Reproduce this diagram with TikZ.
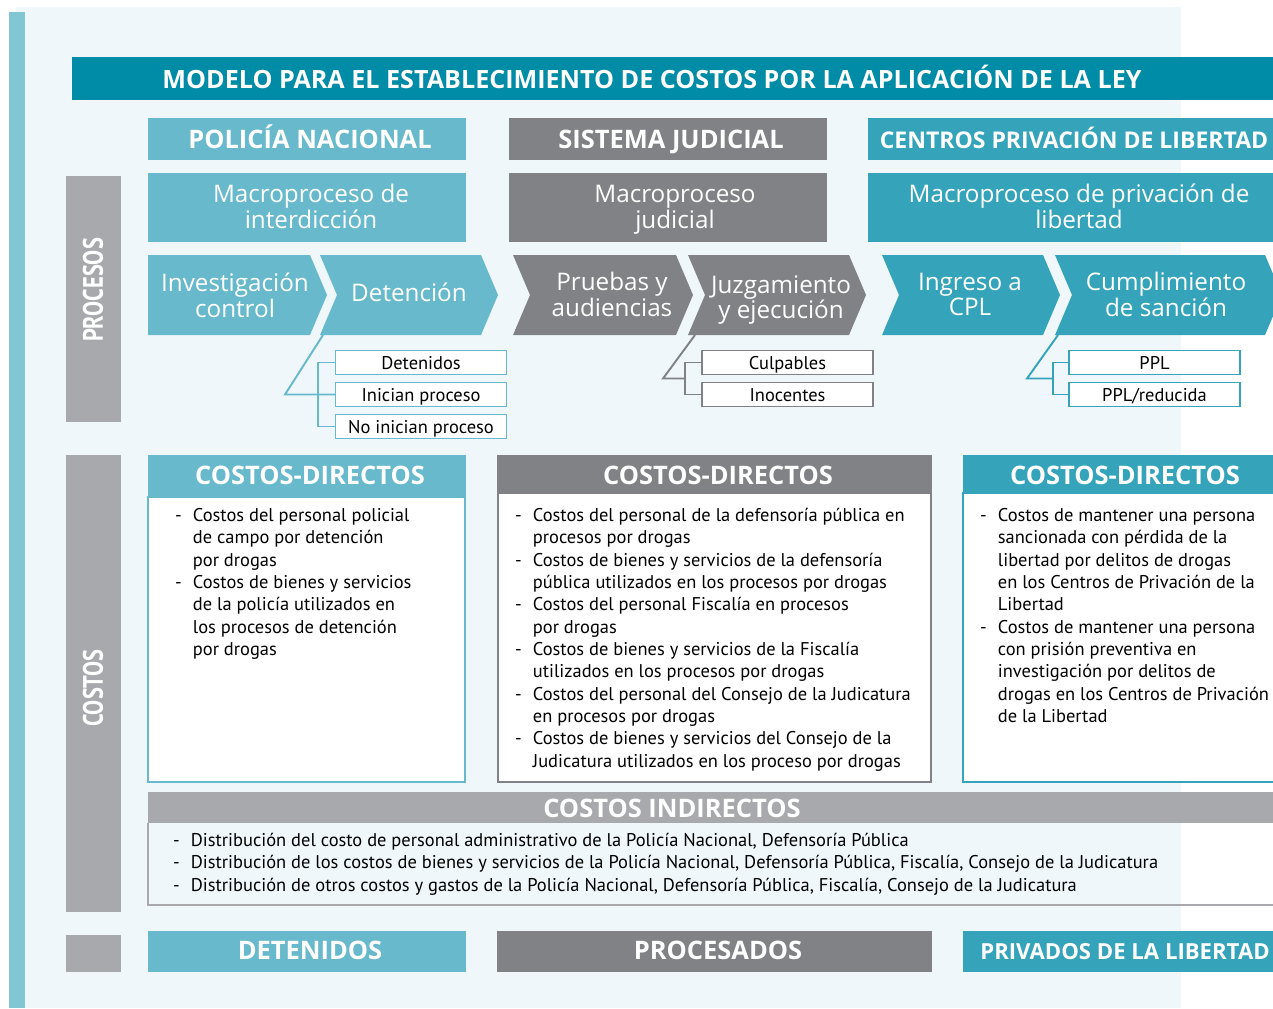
\documentclass[tikz,border=0pt]{standalone}
\usepackage{fontspec}
\setmainfont{PT Sans}
\newfontfamily\narrowfont[FakeStretch=0.80]{PT Sans}
\newfontfamily\headfont{Open Sans}
\usetikzlibrary{positioning}

\definecolor{panelbg}{HTML}{EFF7FA}
\definecolor{sidebar}{HTML}{80C6D3}
\definecolor{titleblue}{HTML}{008BA6}
\definecolor{polcol}{HTML}{67B9CB}
\definecolor{judcol}{HTML}{808285}
\definecolor{cplcol}{HTML}{35A4BA}
\definecolor{lightgray}{HTML}{A7A9AC}

\newcommand{\pxu}{0.02cm}
% chevron: left x, body width, colour
\newcommand{\chev}[3]{\fill[#3] (#1,255) -- ++(#2,0) -- ++(17,40) -- ++(-17,40) -- ++(-#2,0) -- ++(17,-40) -- cycle;}
\newcommand{\chevflat}[3]{\fill[#3] (#1,255) -- ++(#2,0) -- ++(17,40) -- ++(-17,40) -- ++(-#2,0) -- cycle;}
% dash list with fixed line breaks
\newcommand{\costlist}[1]{\begin{tabular}{@{}p{10.2pt}@{}l@{}}#1\end{tabular}}

\begin{document}
\begin{tikzpicture}[x=0.02cm, y=-0.02cm, line width=1.1pt]
% Styles
\tikzstyle{blk}=[inner sep=0pt, outer sep=0pt, text=white, align=center]
\tikzstyle{hdr}=[blk, text height=10.3pt, text depth=0pt, font=\headfont\bfseries\fontsize{14.5}{15}\selectfont]
\tikzstyle{macro}=[blk, font=\headfont\fontsize{13.8}{14.7}\selectfont]
\tikzstyle{sidelbl}=[blk, rotate=90, font=\narrowfont\bfseries\fontsize{16}{18}\selectfont]
\tikzstyle{sub}=[inner sep=0pt, outer sep=0pt, fill=white, text=black, minimum width=171*\pxu, minimum height=24*\pxu, text height=7.4pt, text depth=0pt, font=\fontsize{10.5}{12}\selectfont]
\tikzstyle{body}=[inner sep=0pt, outer sep=0pt, anchor=north west, align=left, font=\fontsize{10.5}{12.7}\selectfont]
\useasboundingbox (0,0) rectangle (1273,1008);
% Background
\fill[white] (0,0) rectangle (1273,1008);
\fill[panelbg] (16,7) rectangle (1181,1008);
\fill[sidebar] (9,12) rectangle (25,1008);
% Title
\fill[titleblue] (72,57) rectangle (1290,100);
\node[hdr, font=\headfont\bfseries\fontsize{14.3}{15}\selectfont] (title) at (652,79) {MODELO PARA EL ESTABLECIMIENTO DE COSTOS POR LA APLICACIÓN DE LA LEY};
% Side labels
\fill[lightgray] (66,176) rectangle (121,422);
\node[sidelbl] (lproc) at (93,290) {PROCESOS};
\fill[lightgray] (66,455) rectangle (121,912);
\node[sidelbl] (lcost) at (93,688) {COSTOS};
\fill[lightgray] (66,935) rectangle (121,972);
% Column headers
\fill[polcol] (148,118) rectangle (466,160);
\node[hdr] (polic) at (310,139.5) {POLICÍA NACIONAL};
\fill[judcol] (509,118) rectangle (827,160);
\node[hdr] (judic) at (671,139.5) {SISTEMA JUDICIAL};
\fill[cplcol] (868,118) rectangle (1290,160);
\node[hdr, font=\headfont\bfseries\fontsize{13.1}{15}\selectfont] (centr) at (1074,139.5) {CENTROS PRIVACIÓN DE LIBERTAD};
% Macroprocesses
\fill[polcol] (148,173) rectangle (466,242);
\node[macro] (mpol) at (311,206) {Macroproceso de\\interdicción};
\fill[judcol] (509,173) rectangle (827,242);
\node[macro] (mjud) at (675,210) {Macroproceso\\judicial};
\fill[cplcol] (868,173) rectangle (1290,242);
\node[macro] (mcpl) at (1079,206) {Macroproceso de privación de\\libertad};
% Process chevrons
\chevflat{148}{162}{polcol}
\node[macro] (invest) at (235,295) {Investigación\\control};
\chev{320}{161}{polcol}
\node[macro] (deten) at (409,292) {Detención};
\chev{513}{163}{judcol}
\node[macro] (prueb) at (612,294) {Pruebas y\\audiencias};
\chev{688}{161}{judcol}
\node[macro] (juzga) at (781,300) {Juzgamiento\\y ejecución};
\chev{882}{161}{cplcol}
\node[macro] (ingre) at (970,294.5) {Ingreso a\\CPL};
\chev{1055}{210}{cplcol}
\node[macro] (cumpl) at (1166,294) {Cumplimiento\\de sanción};
% Outcome boxes
\node[sub, draw=polcol] (det) at (421,362.5) {Detenidos};
\node[sub, draw=polcol] (inic) at (421,394.5) {Inician proceso};
\node[sub, draw=polcol] (noin) at (421,426.5) {No inician proceso};
\node[sub, draw=judcol] (culp) at (787.5,362.5) {Culpables};
\node[sub, draw=judcol] (inoc) at (787.5,394.5) {Inocentes};
\node[sub, draw=cplcol] (ppl) at (1154.5,362.5) {PPL};
\node[sub, draw=cplcol] (pplr) at (1154.5,394.5) {PPL/reducida};
% Connectors
\coordinate (dA) at (323,335);
\coordinate (eA) at (285,394.5);
\coordinate (kA) at (318,394.5);
\draw[polcol] (dA) -- (eA) -- (inic.west);
\draw[polcol] (det.west) -- (det.west -| kA) -- (noin.west -| kA) -- (noin.west);
\coordinate (dB) at (695,335);
\coordinate (eB) at (663,378.5);
\coordinate (kB) at (685,378.5);
\draw[judcol] (dB) -- (eB) -- (kB);
\draw[judcol] (culp.west) -- (culp.west -| kB) -- (inoc.west -| kB) -- (inoc.west);
\coordinate (dC) at (1058,335);
\coordinate (eC) at (1027,378.5);
\coordinate (kC) at (1053,378.5);
\draw[cplcol] (dC) -- (eC) -- (kC);
\draw[cplcol] (ppl.west) -- (ppl.west -| kC) -- (pplr.west -| kC) -- (pplr.west);
% Direct costs
\draw[polcol, fill=white] (148,497) rectangle (465,782);
\fill[polcol] (148,455) rectangle (466,497);
\node[hdr] (cdpol) at (310,475) {COSTOS-DIRECTOS};
\draw[judcol, fill=white] (498,493) rectangle (931,782);
\fill[judcol] (497,455) rectangle (932,493);
\node[hdr] (cdjud) at (718,475) {COSTOS-DIRECTOS};
\draw[cplcol, fill=white] (963,493) rectangle (1290,782);
\fill[cplcol] (963,455) rectangle (1290,493);
\node[hdr] (cdcpl) at (1125,475) {COSTOS-DIRECTOS};
\node[body] (lpol) at (175,506) {\costlist{
- & Costos del personal policial\\
  & de campo por detención\\
  & por drogas\\
- & Costos de bienes y servicios\\
  & de la policía utilizados en\\
  & los procesos de detención\\
  & por drogas}};
\node[body] (ljud) at (515,506) {\costlist{
- & Costos del personal de la defensoría pública en\\
  & procesos por drogas\\
- & Costos de bienes y servicios de la defensoría\\
  & pública utilizados en los procesos por drogas\\
- & Costos del personal Fiscalía en procesos\\
  & por drogas\\
- & Costos de bienes y servicios de la Fiscalía\\
  & utilizados en los procesos por drogas\\
- & Costos del personal del Consejo de la Judicatura\\
  & en procesos por drogas\\
- & Costos de bienes y servicios del Consejo de la\\
  & Judicatura utilizados en los proceso por drogas}};
\node[body] (lcpl) at (980,506) {\costlist{
- & Costos de mantener una persona\\
  & sancionada con pérdida de la\\
  & libertad por delitos de drogas\\
  & en los Centros de Privación de la\\
  & Libertad\\
- & Costos de mantener una persona\\
  & con prisión preventiva en\\
  & investigación por delitos de\\
  & drogas en los Centros de Privación\\
  & de la Libertad}};
% Indirect costs
\draw[lightgray] (148,823) -- (148,905) -- (1290,905);
\fill[lightgray] (148,792) rectangle (1290,823);
\node[hdr] (cind) at (672,808) {COSTOS INDIRECTOS};
\node[body] (lind) at (173,831) {\costlist{
- & Distribución del costo de personal administrativo de la Policía Nacional, Defensoría Pública\\
- & Distribución de los costos de bienes y servicios de la Policía Nacional, Defensoría Pública, Fiscalía, Consejo de la Judicatura\\
- & Distribución de otros costos y gastos de la Policía Nacional, Defensoría Pública, Fiscalía, Consejo de la Judicatura}};
% Totals
\fill[polcol] (148,931) rectangle (466,972);
\node[hdr] (tdet) at (310,950) {DETENIDOS};
\fill[judcol] (497,931) rectangle (932,972);
\node[hdr] (tproc) at (718,950) {PROCESADOS};
\fill[cplcol] (963,931) rectangle (1290,972);
\node[hdr, font=\headfont\bfseries\fontsize{12.6}{15}\selectfont] (tpriv) at (1125,950) {PRIVADOS DE LA LIBERTAD};
\end{tikzpicture}
\end{document}
